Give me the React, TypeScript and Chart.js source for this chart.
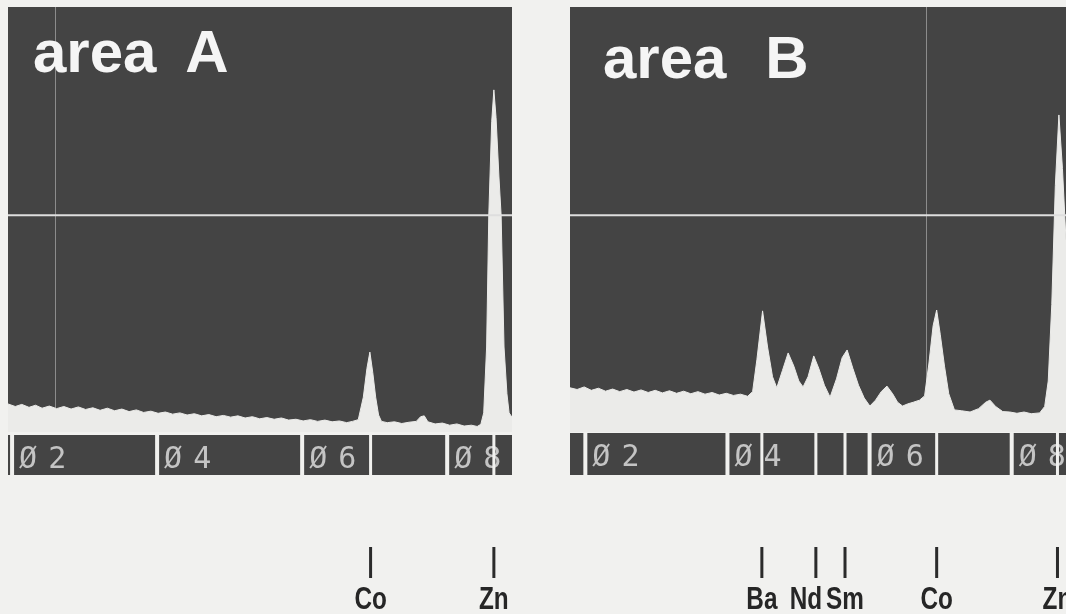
import React, { useEffect, useRef } from "react";
import { Chart, registerables } from "chart.js";

Chart.register(...registerables);

// ---- data (energy in keV, intensity in % of full scale) ----
const energyA = [
  1.93, 2.03, 2.12, 2.22, 2.31, 2.4, 2.5, 2.6, 2.7, 2.8, 2.9, 3.0, 3.1, 3.2, 3.3, 3.4, 3.5, 3.6, 3.7, 3.8,
  3.9, 4.0, 4.1, 4.2, 4.3, 4.4, 4.5, 4.6, 4.7, 4.8, 4.9, 5.0, 5.1, 5.2, 5.3, 5.4, 5.5, 5.6, 5.7, 5.8,
  5.9, 6.0, 6.1, 6.2, 6.3, 6.4, 6.5, 6.6, 6.68, 6.76, 6.83, 6.88, 6.92, 6.96, 7.0, 7.04, 7.08, 7.16, 7.26, 7.36,
  7.46, 7.56, 7.62, 7.67, 7.72, 7.82, 7.92, 8.02, 8.12, 8.22, 8.32, 8.4, 8.45, 8.49, 8.53, 8.56, 8.6, 8.63, 8.66, 8.7,
  8.73, 8.77, 8.81, 8.84, 8.88,
];
const countsA = [
  6.6, 6.0, 6.5, 5.8, 6.3, 5.6, 6.1, 5.5, 6.0, 5.4, 5.9, 5.3, 5.7, 5.1, 5.6, 5.0, 5.4, 4.8, 5.2, 4.6,
  4.9, 4.4, 4.7, 4.2, 4.5, 4.0, 4.3, 3.8, 4.1, 3.6, 3.9, 3.5, 3.8, 3.3, 3.6, 3.1, 3.4, 3.0, 3.3, 2.8,
  3.0, 2.6, 2.9, 2.5, 2.8, 2.4, 2.6, 2.2, 2.5, 2.9, 8.2, 15.0, 18.8, 14.0, 8.2, 4.0, 2.5, 2.2, 2.4, 2.0,
  2.3, 2.5, 3.6, 3.8, 2.4, 1.9, 2.1, 1.6, 1.9, 1.4, 1.6, 1.3, 1.8, 4.5, 20.0, 51.0, 73.0, 80.5, 74.0, 60.0,
  51.0, 20.0, 9.0, 4.5, 3.5,
];

const energyB = [
  1.77, 1.87, 1.97, 2.07, 2.17, 2.27, 2.37, 2.47, 2.57, 2.67, 2.77, 2.87, 2.97, 3.07, 3.17, 3.27, 3.37, 3.47, 3.57, 3.67,
  3.77, 3.87, 3.97, 4.07, 4.17, 4.27, 4.34, 4.4, 4.48, 4.55, 4.62, 4.68, 4.76, 4.84, 4.92, 4.99, 5.05, 5.12, 5.2, 5.27,
  5.35, 5.43, 5.52, 5.6, 5.67, 5.75, 5.83, 5.91, 5.99, 6.07, 6.15, 6.23, 6.31, 6.38, 6.45, 6.52, 6.6, 6.69, 6.76, 6.82,
  6.88, 6.93, 6.98, 7.04, 7.1, 7.18, 7.28, 7.4, 7.52, 7.62, 7.68, 7.76, 7.86, 7.96, 8.06, 8.16, 8.26, 8.38, 8.45, 8.5,
  8.55, 8.6, 8.65, 8.7, 8.75,
];
const countsB = [
  10.4, 10.0, 10.6, 9.8, 10.3, 9.6, 10.1, 9.5, 10.0, 9.4, 9.9, 9.3, 9.8, 9.2, 9.7, 9.1, 9.6, 9.0, 9.5, 8.9,
  9.3, 8.7, 9.1, 8.6, 8.9, 8.4, 9.5, 17.0, 28.5, 20.0, 13.0, 10.4, 14.5, 18.6, 15.5, 12.0, 10.6, 13.0, 17.9, 15.0,
  11.0, 8.2, 12.5, 17.5, 19.3, 15.0, 11.0, 8.0, 6.1, 7.5, 9.5, 10.8, 9.0, 7.0, 6.1, 6.6, 7.0, 7.5, 8.5, 16.0,
  25.0, 28.7, 23.0, 15.5, 9.0, 5.2, 5.0, 4.7, 5.5, 7.0, 7.5, 6.0, 4.8, 4.7, 4.4, 4.7, 4.3, 4.5, 6.0, 12.0,
  30.0, 58.0, 74.6, 62.0, 45.0,
];

const rangeA = [1.93, 8.88];
const rangeB = [1.77, 8.75];
const halfScaleLevel = 51;
const cursorA = [2.58];
const cursorB = [6.78];

const scaleTicks = [2, 4, 6, 8];
const scaleTickLabels = ["Ø2", "Ø4", "Ø6", "Ø8"];

const elementsA = ["Co", "Zn"];
const elementEnergiesA = [6.93, 8.63];
const elementsB = ["Ba", "Nd", "Sm", "Co", "Zn"];
const elementEnergiesB = [4.47, 5.23, 5.64, 6.93, 8.63];

const titleA = "area A";
const titleB = "area B";

// ---- styles ----
const PAPER = "#f1f1ef";
const SCREEN = "#444444";
const SPECTRUM = "#ebebe9";
const CANVAS_H = 614;
const LABEL_SCALE = 0.76;

type PanelProps = {
  energies: number[];
  counts: number[];
  range: number[];
  cursors: number[];
  elements: string[];
  elementEnergies: number[];
  title: string;
  left: number;
  width: number;
  padLeft: number;
  padRight: number;
  titleX: number;
  titleBaseline: number;
  titleGap: number;
  barTopGap: number;
};

function Panel(p: PanelProps) {
  const ref = useRef<HTMLCanvasElement | null>(null);

  useEffect(() => {
    if (!ref.current) return;
    const points = p.energies.map((e, i) => ({ x: e, y: p.counts[i] }));
    const halfLine = [
      { x: p.range[0], y: halfScaleLevel },
      { x: p.range[1], y: halfScaleLevel },
    ];

    const plugin = {
      id: "edxScreen",
      beforeDatasetsDraw(chart: any) {
        const { ctx, chartArea: a, scales } = chart;
        ctx.save();
        ctx.fillStyle = SCREEN;
        ctx.fillRect(a.left, a.top, a.right - a.left, a.bottom - a.top);
        ctx.strokeStyle = "#8c8c8c";
        ctx.lineWidth = 1;
        p.cursors.forEach((c) => {
          const x = Math.round(scales.x.getPixelForValue(c)) + 0.5;
          ctx.beginPath();
          ctx.moveTo(x, a.top);
          ctx.lineTo(x, a.bottom);
          ctx.stroke();
        });
        ctx.restore();
      },
      afterDatasetsDraw(chart: any) {
        const { ctx, chartArea: a, scales } = chart;
        const xs = scales.x;
        ctx.save();
        // title
        ctx.fillStyle = "#f5f5f5";
        ctx.font = 'bold 60px "Liberation Sans", Arial, sans-serif';
        ctx.textBaseline = "alphabetic";
        ctx.textAlign = "left";
        (ctx as any).wordSpacing = p.titleGap + "px";
        ctx.fillText(p.title, a.left + p.titleX, p.titleBaseline);
        (ctx as any).wordSpacing = "0px";

        // readout bar
        const barTop = a.bottom + p.barTopGap;
        const barBottom = a.bottom + 43;
        ctx.fillStyle = SCREEN;
        ctx.fillRect(a.left, barTop, a.right - a.left, barBottom - barTop);
        ctx.font = '30px "DejaVu Sans Mono", monospace';
        (ctx as any).letterSpacing = "11px";
        scaleTicks.forEach((t, i) => {
          const x = xs.getPixelForValue(t);
          ctx.fillStyle = PAPER;
          ctx.fillRect(x - 3, barTop, 4, barBottom - barTop);
          ctx.fillStyle = "#c4c4c4";
          ctx.fillText(scaleTickLabels[i], x + 6, barTop + 33);
        });
        (ctx as any).letterSpacing = "0px";
        p.elementEnergies.forEach((e) => {
          const x = xs.getPixelForValue(e);
          ctx.fillStyle = PAPER;
          ctx.fillRect(x - 1.5, barTop, 3, barBottom - barTop);
        });
        ctx.fillStyle = PAPER;
        ctx.fillRect(a.right, barTop - 2, 60, barBottom - barTop + 4);

        // element markers: lines
        ctx.fillStyle = "#2b2b2b";
        const xsPix = p.elementEnergies.map((e) => xs.getPixelForValue(e));
        xsPix.forEach((x) => ctx.fillRect(x - 1.5, a.bottom + 115, 3, 31));

        // element labels, nudged left when they would collide with the next one
        ctx.font = 'bold 32px "Liberation Sans", Arial, sans-serif';
        const widths = p.elements.map((s) => ctx.measureText(s).width * LABEL_SCALE);
        const centers = xsPix.slice();
        for (let i = centers.length - 2; i >= 0; i--) {
          const nextLeft = centers[i + 1] - widths[i + 1] / 2;
          const right = centers[i] + widths[i] / 2;
          if (right > nextLeft - 4) centers[i] -= right - (nextLeft - 4);
        }
        p.elements.forEach((s, i) => {
          ctx.save();
          ctx.translate(centers[i], a.bottom + 177);
          ctx.scale(LABEL_SCALE, 1);
          ctx.textAlign = "center";
          ctx.fillStyle = "#262626";
          ctx.fillText(s, 0, 0);
          ctx.restore();
        });
        ctx.restore();
      },
    };

    const chart = new Chart(ref.current, {
      type: "line",
      data: {
        datasets: [
          {
            data: points,
            borderColor: SPECTRUM,
            backgroundColor: SPECTRUM,
            borderWidth: 1,
            pointRadius: 0,
            fill: "start",
            tension: 0,
            order: 2,
          },
          {
            data: halfLine,
            borderColor: "#dedede",
            borderWidth: 2,
            pointRadius: 0,
            fill: false,
            order: 1,
          },
        ],
      } as any,
      options: {
        animation: false,
        responsive: false,
        maintainAspectRatio: false,
        layout: { padding: { left: p.padLeft, right: p.padRight, top: 7, bottom: CANVAS_H - 432 } },
        plugins: { legend: { display: false }, title: { display: false }, tooltip: { enabled: false } },
        scales: {
          x: { type: "linear", min: p.range[0], max: p.range[1], display: false },
          y: { min: 0, max: 100, display: false },
        },
        events: [],
      } as any,
      plugins: [plugin],
    });
    return () => chart.destroy();
  }, []);

  return (
    <canvas
      ref={ref}
      width={p.width}
      height={CANVAS_H}
      style={{ position: "absolute", left: p.left, top: 0, width: p.width, height: CANVAS_H }}
    />
  );
}

export default function App() {
  return (
    <div
      style={{
        position: "absolute",
        left: 0,
        top: 0,
        width: 1066,
        height: 614,
        background: PAPER,
        overflow: "hidden",
      }}
    >
      <Panel
        energies={energyA}
        counts={countsA}
        range={rangeA}
        cursors={cursorA}
        elements={elementsA}
        elementEnergies={elementEnergiesA}
        title={titleA}
        left={0}
        width={520}
        padLeft={8}
        padRight={8}
        titleX={25}
        titleBaseline={72}
        titleGap={12}
        barTopGap={3}
      />
      <Panel
        energies={energyB}
        counts={countsB}
        range={rangeB}
        cursors={cursorB}
        elements={elementsB}
        elementEnergies={elementEnergiesB}
        title={titleB}
        left={560}
        width={506}
        padLeft={10}
        padRight={0}
        titleX={33}
        titleBaseline={78}
        titleGap={22}
        barTopGap={1}
      />
    </div>
  );
}
